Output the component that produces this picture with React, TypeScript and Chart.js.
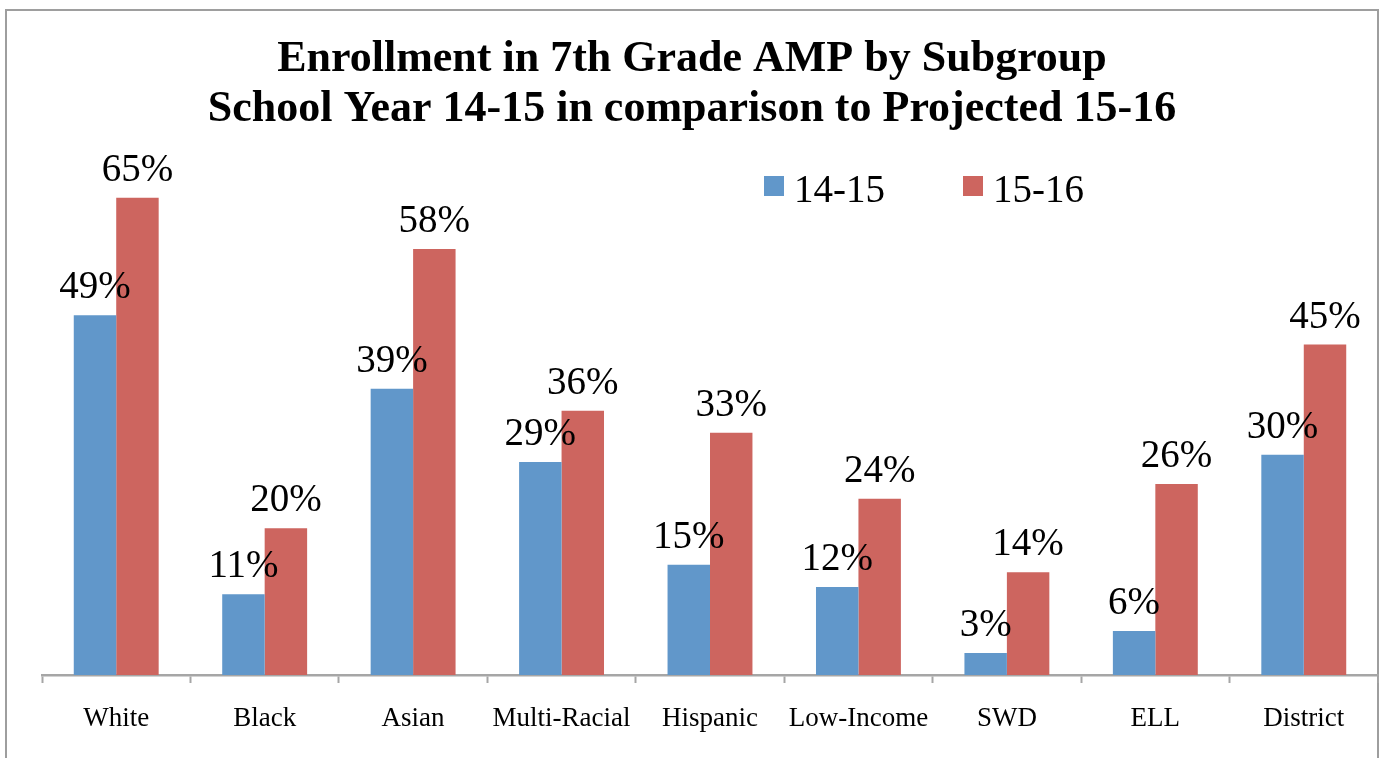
import React, { useEffect, useRef } from "react";
import { Chart, registerables } from "chart.js";

Chart.register(...registerables);

const categories = ["White", "Black", "Asian", "Multi-Racial", "Hispanic", "Low-Income", "SWD", "ELL", "District"];
const series1415 = [49, 11, 39, 29, 15, 12, 3, 6, 30];
const series1516 = [65, 20, 58, 36, 33, 24, 14, 26, 45];
const seriesNames = ["14-15", "15-16"];
const seriesColors = ["#6197CA", "#CD655F"];
const titleLines = [
  "Enrollment in 7th Grade AMP by Subgroup",
  "School Year 14-15 in comparison to Projected 15-16",
];
const yMax = 70;

const FONT = "'Liberation Serif', 'Times New Roman', serif";

const framePlugin = {
  id: "frame",
  beforeDraw(chart: any) {
    const ctx = chart.ctx;
    ctx.save();
    ctx.strokeStyle = "#9E9E9E";
    ctx.lineWidth = 2;
    ctx.beginPath();
    ctx.moveTo(6, 758);
    ctx.lineTo(6, 10);
    ctx.lineTo(1378, 10);
    ctx.lineTo(1378, 758);
    ctx.stroke();
    ctx.restore();
  },
};

const labelsPlugin = {
  id: "valueLabels",
  afterDatasetsDraw(chart: any) {
    const ctx = chart.ctx;
    ctx.save();
    ctx.font = `39px ${FONT}`;
    ctx.fillStyle = "#000";
    ctx.textAlign = "center";
    ctx.textBaseline = "alphabetic";
    chart.data.datasets.forEach((ds: any, di: number) => {
      const meta = chart.getDatasetMeta(di);
      meta.data.forEach((bar: any, i: number) => {
        ctx.fillText(`${ds.data[i]}%`, bar.x, bar.y - 17);
      });
    });
    ctx.restore();
  },
};

const legendPlugin = {
  id: "customLegend",
  afterDraw(chart: any) {
    const ctx = chart.ctx;
    ctx.save();
    ctx.font = `39px ${FONT}`;
    ctx.textBaseline = "alphabetic";
    ctx.textAlign = "left";
    const starts = [764, 963];
    chart.data.datasets.forEach((ds: any, di: number) => {
      const x = starts[di];
      ctx.fillStyle = ds.backgroundColor;
      ctx.fillRect(x, 176, 20, 20);
      ctx.fillStyle = "#000";
      ctx.fillText(ds.label, x + 30, 202);
    });
    ctx.restore();
  },
};

export default function App() {
  const ref = useRef<HTMLCanvasElement | null>(null);

  useEffect(() => {
    if (!ref.current) return;
    const chart = new Chart(ref.current, {
      type: "bar",
      data: {
        labels: categories,
        datasets: [
          { label: seriesNames[0], data: series1415, backgroundColor: seriesColors[0], categoryPercentage: 0.572, barPercentage: 1 },
          { label: seriesNames[1], data: series1516, backgroundColor: seriesColors[1], categoryPercentage: 0.572, barPercentage: 1 },
        ],
      },
      options: {
        responsive: false,
        animation: false,
        layout: { padding: { left: 6, right: 1, top: 0, bottom: 0 } },
        plugins: {
          legend: { display: false },
          tooltip: { enabled: false },
          title: {
            display: true,
            text: titleLines,
            color: "#000",
            font: { family: FONT, size: 44, weight: "bold", lineHeight: 50 / 44 },
            padding: { top: 35, bottom: 26 },
          },
        },
        scales: {
          x: {
            afterFit: (scale: any) => {
              scale.height = 83;
            },
            grid: {
              display: true,
              offset: true,
              drawOnChartArea: false,
              drawTicks: true,
              tickLength: 8,
              tickColor: "#A6A6A6",
              tickWidth: 2,
            },
            border: { display: true, color: "#A6A6A6", width: 2.5 },
            ticks: {
              color: "#000",
              font: { family: FONT, size: 27 },
              padding: 20,
              maxRotation: 0,
              autoSkip: false,
            },
          },
          y: {
            display: true,
            min: 0,
            max: yMax,
            afterFit: (scale: any) => {
              scale.width = 36;
            },
            grid: { display: false },
            border: { display: false },
            ticks: { display: false },
          },
        },
      },
      plugins: [framePlugin, labelsPlugin, legendPlugin],
    });
    return () => chart.destroy();
  }, []);

  return (
    <div style={{ position: "absolute", left: 0, top: 0, width: 1379, height: 758, background: "#fff" }}>
      <canvas ref={ref} width={1379} height={758} style={{ display: "block" }} />
    </div>
  );
}
